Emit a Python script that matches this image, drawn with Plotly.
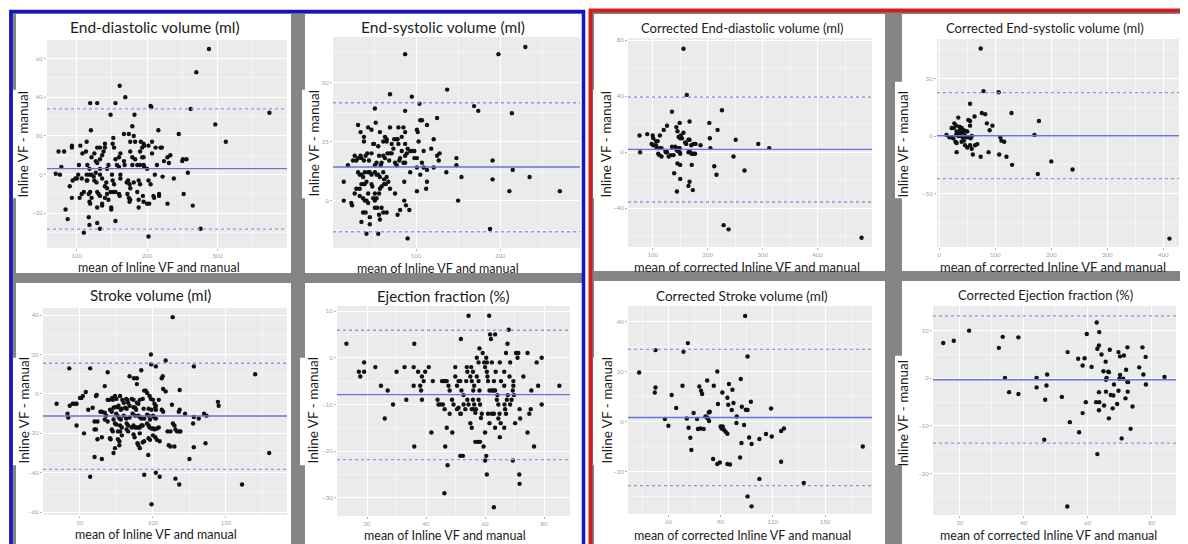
import plotly.graph_objects as go

# reference canvas size and the page offset of the figure (browser body margin)
W, H = 1188, 544
OFF = 8
FW, FH = W - OFF, H - OFF

# ---------------- data (mean of methods vs difference) ----------------
edv_mean = [288,270,161,169,374,119,129,155,148,182, 205,206,262,297,312,245,216,179,120,114,
            152,167,174,181,183,191,176,207,202,195, 196,151,153,74,82,93,93,105,113,129,
            133,125,121,108,140,140,136,138,160,162, 176,179,190,193,195,212,221,219,233,229,
            207,78,70,76,103,115,129,127,133,118, 127,133,143,145,155,157,160,167,168,179,
            183,186,190,193,195,196,200,214,224,231, 251,250,256,258,114,118,121,98,102,94,
            90,100,107,114,115,124,125,128,133,136, 142,140,143,150,151,153,162,162,171,173,
            175,176,181,188,190,202,205,211,222,238, 148,155,152,129,131,133,119,117,121,110,
            107,104,93,143,140,145,160,161,172,174, 176,175,186,194,209,210,217,217,188,195,
            200,203,229,252,265,118,119,129,136,136, 149,149,188,84,87,117,118,129,155,133,
            110,202,276]
edv_diff = [65,53,46,40,32,37,37,37,31,31, 35.5,35,34,26,17,21,23,25,23,17,
            19,21,21,20,17,17,17,17,15,16, 15,16,14,12,12,15,14,15,12,14,
            14,11,9,11,16,14,10,12,9,11, 12,9,12,14,9,14,14,14,10,9,
            11,4,0.5,0,5,5,6,7,8,3, 1,3,3,5,8,5,4,7,5,5,
            8,5,5,9,5,4,3,5,7,6, 8,7,8,1,0,0,0,-2,0,-3,
            -6,-2,-2,-3,-3,-1,-3,-4,0,-2, -4,-6,-7,0,-3,-5,0,-2,-4,-3,
            -5,-7,-4,-3,-5,-3,-5,0,-1,-2, -9,-9,-9,-9,-10,-11,-9,-10,-12,-9,
            -10,-12,-12,-10,-12,-13,-10,-11,-10,-12, -13,-14,-9,-11,-11,-12,-10,-11,-13,-14,
            -15,-15,-15,-10,-16,-14,-15,-17,-15,-16, -18,-17,-17,-18,-23,-22,-26,-25,-24,-28,
            -30,-32,-28]

esv_mean = [87,198,230,137,95,69,51,87,104,169, 174,214,125,105,107,113,31,43,47,52,
            69,79,85,87,101,102,34,57,63,65, 74,78,83,121,38,38,49,50,55,61,
            65,71,73,77,79,83,87,90,93,95, 98,101,103,109,118,87,89,81,80,66,
            69,71,61,63,56,47,42,40,34,27, 31,29,25,35,38,44,53,51,59,58,
            75,77,68,85,87,98,107,105,109,113, 113,125,128,121,127,136,148,148,154,150,
            19,14,14,23,24,27,29,33,35,37, 41,39,47,48,33,37,43,35,37,31,
            33,39,43,45,47,51,53,55,57,61, 62,65,67,62,64,59,57,56,69,75,
            53,51,49,39,41,43,51,54,37,40, 45,35,45,41,55,57,56,61,65,59,
            51,78,81,86,88,92,90,101,112,86, 93,101,188,191,191,211,215,235,271]
esv_diff = [62,62,65,47,44,45,39,38,41,40, 38,37,35,34,34,32,32,31,30,33,
            31,31,31,29,30,29,29,29,27,26, 26,26,27,26,27,25,24,24,23,25,
            25,24,22,26,24,21,24,22,21,21, 21,18,25,21,22,19,20,18,17,20,
            20,20,19,18,19,20,20,19,19,19, 18,17,17,18,17,17,16,15,16,15,
            16,15,17,16,16,18,16,11,14,13, 8,19,20,14,17,12,18,15,10,0,
            15,8,0,-1,-2,3,5,5,7,7, 8,7,7,6,2,1,3,11,10,12,
            11,12,12,12,11,12,11,11,10,12, 9,10,8,7,7,6,5,3,5,3,
            1,0,1,0,0,-1,-3,-3,-5,-5, -7,-9,-10,-14,-14,-8,-6,-5,-5,-3,
            3,-6,-4,0,-2,-4,-16,4,5,8, 12,14,-12,9,17,4,13,10,4]

cedv_mean = [156,162,135,226,76,90,100,101,106,109, 98,101,106,107,113,116,110,112,116,77,
             120,126,113,143,145,149,167,156,147,150, 153,151,159,161,165,167,170,174,178,187,
             135,141,143,145,147,149,123,126,124,129, 133,138,149,150,165,168,171,174,177,145,
             150,171,139,150,167,165,173,144,203,218, 204,205,212,216,251,247,267,292,312,229,
             238,480]
cedv_diff = [74,41,29,30,12,13,12,10,8,8, 6,5,5,3,3,3,-1,-2,-3,0,
             16,19,12,18,15,21,22,14,11,10, 10,12,7,6,9,9,5,6,6,5,
             4,4,2,1,3,3,1,0,0,-3, -2,-2,0,-1,0,0,-1,-1,-1,-8,
             -9,-9,-15,-19,-21,-24,-27,-28,21,16, 10,3,-10,-16,9,-3,-13,6,3,-52,
             -55,-61]

cesv_mean = [74,79,106,55,76,82,129,178,63,52, 55,34,27,30,85,95,90,55,22,26,
             36,40,37,44,48,50,40,43,31,34, 13,18,22,25,30,34,38,42,46,49,
             54,56,58,29,31,40,44,46,50,55, 58,64,68,31,60,74,88,109,111,116,
             107,120,130,170,176,200,238,411]
cesv_diff = [76,39,38,28,20,19,20,13,17,14, 13,16,11,9,11,9,5,9,7,7,
             8,7,5,5,4,4,3,3,4,2, 1,-1,-1,-2,1,0,0,-1,0,-1,
             -1,-2,0,-5,-6,-5,-4,-8,-10,-8, -11,-8,-7,-14,-16,-18,-14,-1,-4,-5,
             -16,-18,-25,1,-33,-22,-29,-89]

sv_mean = [113.5,98.6,108.7,98.8,102,128,170,42.7,57,69, 92,84,87,89,106.7,106,89,67,54,52,
           50,51,46.6,47.7,45,34,43,41.5,42,47.7, 52.8,55.7,58.7,61,61.5,62,60,60,61,62,
           65,60,65,57,64,65,67,68,69,70, 72,72.5,74,75,77.5,79,80,81.7,82.5,83,
           84,85.5,86.7,89,90,91,93,94,95,96, 97.7,98.6,100,101,102,104,101.6,102,97,99,
           93.6,86.7,87.8,88.5,82,81,78,78.7,75.7,76.4, 73,74,70.6,71.8,74.8,75.7,77,78,80,81.7,
           84,86,87.8,90,91,92,94,96,97,98, 100,101,102,67,69,73,74,75,77.5,78.7,
           82,83,85.5,86.7,87.8,89,90,91,92,93, 96,97,97.7,99,100,101,102.7,104,71.8,72.5,
           76,77.5,78.7,82,83,86.7,87.4,91,71,70.6, 76,77,77,74,73,89.4,90,93,94,91,
           97,98,100,101.6,102.7,104.6,96.8,94,102,104.6, 99,106,107,113,117.7,118.3,122,107,108.7,118.3,
           113.7,114.7,115.4,116.5,118.8,118,110,112,110.8,112, 114.7,115.4,118,125,127.5,128,128,131.4,135,136.7,
           136,144.5,145,161,179.6]
sv_diff = [39,20,17,15,14,14,10,13,13,11, 12,9,8,8,9,8,5,4,1,-1,
           -2,-2,-5,-5,-5,-5,-6,-10,-12,-16, -20,-8,-7,-1,-0.5,-14,-14,-18,-18,-23,
           -22,-32,-33,-42,-9,-9,-9.5,-11,-3,-3, -2,-3,-1,-2.5,-1,-3,-4.5,-2.5,-3,-4.5,
           -6,-2.5,-3,-4.5,-5,-3,-2.5,1.7,1.7,0.5, -1,-2.5,-3,-5,-6,-3,-6.7,-8,-7.5,-8,
           -7.5,-6.7,-7,-8,-7.5,-7,-8,-7.5,-6.7,-6, -7,-6.7,-8,-9,-10,-11,-12.5,-13,-11,-12.5,
           -12,-10,-11,-11,-11.7,-12.5,-12.5,-10.5,-11,-13, -11,-12,-12.5,-13,-14,-13,-15,-15.5,-16,-17,
           -15,-16,-17,-16,-17,-17,-17,-17,-16,-16, -15,-16,-17,-17.5,-17.5,-18,-17.5,-17,-18,-19,
           -19,-19,-21,-18,-19,-20.5,-22,-20,-23,-22.5, -23,-24,-26,-27.5,-30,-25,-26,-24.5,-24,-27.5,
           -22.5,-23.3,-21,-22,-23.3,-24,-31,-41,-40,-42, -56,-8,-9,-5.5,-9,-8,-10,2.5,1.3,2,
           -15,-16,-18,-19,-19,-19,-19,-19,-26,-26.7, -26.7,-43,-46,-33,-15,-11.7,-27,-12.5,-10,-11,
           -25,-4,-6,-46,-30]

ef_mean = [13,17.2,17.7,19,19,22.8,24.7,27,26,28.8, 30,32.7,33.3,36,35.8,35.8,36,37.3,38,38.3,
           38.6,39.2,38.6,39.7,40.9,41.8,42.3,43.9,44.2,44.8, 45.4,46,46.5,47,45.7,46.3,47.6,48,46.5,46.2,
           47,47.3,48,48.8,49.3,49.9,48.9,49.9,50.5,51, 51.6,50.5,51,51.8,51.6,52.5,52,52.7,52.7,53.3,
           51.8,51.6,53.6,54,54.4,53.8,54,54.4,55,55.5, 55.3,55.9,56,56.3,55.5,55.9,55.9,56.3,55,55.5,
           56.7,56.9,56.7,57.6,58.3,57.2,57.8,58.1,57.2,57.8, 57.8,58.3,58.6,58.9,59.2,59.5,58.1,59.7,60,60,
           60.4,60.6,60.4,60.6,60.6,60.8,61,61.5,61,61.5, 60,61.4,61.7,62,62.3,62.3,63,62.3,62.9,63.4,
           63.4,63,63.6,63.4,63,64,64.2,64.5,64.5,64.9, 65,65.4,65.3,65,66.5,66.5,66.6,66.8,67.1,66.5,
           67.1,67.6,67.4,67.7,68,68.5,68.3,68.5,69,69.4, 69.6,69.4,69.6,69.8,70.2,70.5,71.3,71,71.7,71.9,
           71.6,71.7,73,74.4,74.4,75,75.5,75.7,76.6,77.5, 78,79.2,79.2,85.2]
ef_diff = [3,-3,-4,-1,-3,-2,-6,-7,-13,-10, -3,-2,-9,3,-2,-6,-19,-3,-6,-7,
           -4,-5,-9,-3,-2,-16,-5,-9,-10,-10, -5,-5,-5,-5,-10,-11,-6,-7,-19,-29,
           -15,-23,-12,-9,-10,-4,-16,-2,-6,-5, -5,-11,-10.7,4,-21,-21,-7,-8,-10,-11,
           -12,-12,-5,-9,-10,-2,-3,9,-4,-5, -2,-3,-7,-6,-11,-11,-9,-10,-14,-15,
           -11.8,-11,-18,-18,-18,0,-1,2,-4,-5, -9,-10,-12.9,-12,1,-19,-7,-1,-2,-22,
           -21,-25,0,-1,-3,-4,-5,-7,-12,-14, -16,9,5,4,-1,-12,-12,-7,-7,-7,
           5,-5,-3,-15,-32,-9,-8,-10,-13,-12, -1,-5,-14,-17,-3,-6,-10,-11,-12,-15,
           1,3,-9,-8,6,-1,-4,-10,-9,-7, -6,-22,-5,-8,-14,1,1,0,-11,-13,
           -25,-27,-4,1,-16,-12,-11,-7,-19,-1, -6,0,-10,-6]

csv_mean = [104.1,71.2,52.6,68.7,105.5,43.2,88.1,101.6,82.3,52.6, 52.2,68.1,77.8,86.1,94.8,96.8,78.8,79.4,61.9,91,
            93.9,64.5,88.5,94.4,97.4,96.4,102.2,104.5,105.5,107.4, 119,58,60,70.6,74.5,76.5,81.3,82.3,82.6,83.2,
            83.8,83.4,77,78.4,80.3,71.6,72.6,73.2,90,90.6, 91.2,91.9,92.9,93.9,99.3,99.1,103.5,106.4,102,107.8,
            112.3,116.1,119.4,124.8,126.4,85.7,88.1,89.6,93.9,95.4, 101.2,124.8,112.3,137.8,105.5,107.8,171.7]
csv_diff = [42.4,31.5,28.7,28,26.1,19.7,20.1,17.1,16.5,13.7, 11.7,14.4,14.1,14.4,15.1,12.8,12.4,11.1,10.7,11.7,
            9.6,5.5,7.1,6.8,7.5,4.7,6,4.8,4.7,8, 5.3,1.1,-1.6,1.3,3.5,1.1,2.1,1.7,1.3,3.7,
            4,0.3,-2.9,-2.7,-2.9,-2.4,-6.4,-11.3,-1.9,-2.7, -1.9,-3.2,-4,-4.8,2.1,-0.5,-1.3,-6.3,-8.5,-8.9,
            -6.9,-4.9,-5.9,-3.7,-2.7,-14.9,-16.9,-16.3,-16.9,-17.1, -14.3,-16,-22.9,-24.5,-29.9,-33.9,-9.9]

cef_mean = [14.8,18.1,22.9,32.2,33.4,34.1,38.3,35.4,38.3,44, 44,47.3,47.1,46.7,46.4,51.9,53.7,54.4,57,58.4,
            59,59.7,57.3,58.4,59.4,61.2,62.8,63,63.5,63.6, 64.3,62.6,63.6,63.5,63.5,63,64.9,65.1,65.6,65.7,
            65.9,65.7,66.4,66.6,66.6,66.9,67.2,68,67.8,68.2, 69.9,69.6,69.6,69.2,70.1,70.1,70.6,71.1,71.3,71.8,
            72,72.4,72.4,72.6,72.5,73.4,74,76.1,77.1,77.4, 78.1,78.2,84,53.6]
cef_diff = [7.4,7.9,10,6.4,8.7,0.1,8.6,-2.9,-3.3,0.1, -1.9,0.8,-1.5,-4.5,-12.9,-3.9,5.5,-9.2,4.1,2.7,
            4.2,9.3,-11.3,-7.3,-5,2.4,11.7,6.2,6.9,9.7, 5,-5,-5,-2.9,-6.7,-15.9,1.5,-5.7,3.5,-0.3,
            0.1,-2.8,1.4,1.3,-8.4,6,-3.5,-3.6,-6.3,-1.3, -0.1,5.5,-2.6,-5.4,4.6,0.7,-12.6,-0.1,4.8,-4.2,
            1.8,6.5,-0.7,-0.8,-2.8,-10.6,-5.9,2.3,6.5,0.8, 4.5,-1.3,0.3,-26.9]

# bias, upper and lower limits of agreement
edv_stats = [3.1, 34.0, -28.2]
esv_stats = [14.2, 41.4, -13.2]
cedv_stats = [2.1, 39.5, -35.5]
cesv_stats = [0.3, 37.7, -37.0]
sv_stats = [-11.2, 15.6, -38.3]
ef_stats = [-7.9, 5.9, -21.8]
csv_stats = [1.7, 29.0, -25.6]
cef_stats = [-0.3, 13.1, -13.6]

titles = ["End-diastolic volume (ml)", "End-systolic volume (ml)",
          "Corrected End-diastolic volume (ml)", "Corrected End-systolic volume (ml)",
          "Stroke volume (ml)", "Ejection fraction (%)",
          "Corrected Stroke volume (ml)", "Corrected Ejection fraction (%)"]
xlab_plain = "mean of Inline VF and manual"
xlab_corr = "mean of corrected Inline VF and manual"
ylab = "Inline VF - manual"


def fx(px):
    return (px - OFF) / FW


def fy(py):
    return 1 - (py - OFF) / FH


# layout of each panel (pixel geometry, in page pixels)
panels = [
    dict(x=edv_mean, y=edv_diff, s=edv_stats, t=titles[0], ts=15.5, xl=xlab_plain, xs=12.5,
         plot=(47, 38, 287, 247), xr=(57.6, 399), yr=(-38, 69.7), xd=100, yd=20,
         tpos=(155, 25), xlpos=(159, 266), ylpos=(23, 143), ylbox=(13, 88, 32, 197), panel=(16, 12, 291, 272)),
    dict(x=esv_mean, y=esv_diff, s=esv_stats, t=titles[1], ts=15.5, xl=xlab_plain, xs=12.5,
         plot=(333, 35, 580, 247), xr=(1.2, 295), yr=(-20.1, 69.3), xd=100, yd=25,
         tpos=(443, 25), xlpos=(438, 267), ylpos=(313, 142), ylbox=(302, 88, 323, 197), panel=(305, 12, 582, 272)),
    dict(x=cedv_mean, y=cedv_diff, s=cedv_stats, t=titles[2], ts=13, xl=xlab_corr, xs=13,
         plot=(628, 36, 872, 246), xr=(55, 499), yr=(-67.7, 81.7), xd=100, yd=40,
         tpos=(742, 26), xlpos=(747, 266), ylpos=(606, 143), ylbox=(593, 88, 621, 197), panel=(594, 12, 885, 270)),
    dict(x=cesv_mean, y=cesv_diff, s=cesv_stats, t=titles[3], ts=13, xl=xlab_corr, xs=13,
         plot=(937, 37, 1179, 246), xr=(-4, 428), yr=(-96.4, 84.3), xd=100, yd=50,
         tpos=(1045, 26), xlpos=(1053, 266), ylpos=(903, 143), ylbox=(895, 80, 910, 197), panel=(902, 12, 1188, 270)),
    dict(x=sv_mean, y=sv_diff, s=sv_stats, t=titles[4], ts=15, xl=xlab_plain, xs=12.5,
         plot=(43, 307, 287, 515), xr=(24.7, 191.8), yr=(-61.5, 43.7), xd=50, yd=20,
         tpos=(150, 294), xlpos=(156, 534), ylpos=(23, 410), ylbox=(13, 357, 32, 465), panel=(16, 282, 291, 544)),
    dict(x=ef_mean, y=ef_diff, s=ef_stats, t=titles[5], ts=15, xl=xlab_plain, xs=12.5,
         plot=(337, 305, 570, 516), xr=(9.8, 88.8), yr=(-33.9, 11.1), xd=20, yd=10,
         tpos=(443, 295), xlpos=(445, 535), ylpos=(312, 410), ylbox=(300, 357, 323, 465), panel=(305, 282, 582, 544)),
    dict(x=csv_mean, y=csv_diff, s=csv_stats, t=titles[6], ts=13.5, xl=xlab_corr, xs=12.5,
         plot=(628, 305, 872, 514), xr=(36.8, 177), yr=(-37, 46.4), xd=30, yd=20,
         tpos=(742, 295), xlpos=(742, 535), ylpos=(606, 410), ylbox=(593, 357, 621, 465), panel=(594, 280, 885, 544)),
    dict(x=cef_mean, y=cef_diff, s=cef_stats, t=titles[7], ts=13, xl=xlab_corr, xs=12.5,
         plot=(933, 305, 1176, 515), xr=(11.6, 87.6), yr=(-28.7, 15.2), xd=20, yd=10,
         tpos=(1045, 294), xlpos=(1048, 535), ylpos=(903, 413), ylbox=(895, 355, 912, 465), panel=(902, 280, 1188, 544)),
]

FONT = "Lato"
fig = go.Figure()
shapes = []
annotations = []
layout = {}

# group backgrounds (grey) inside the coloured frames
shapes.append(dict(type="rect", xref="paper", yref="paper", x0=fx(9), x1=fx(585), y0=fy(8), y1=fy(548),
                   fillcolor="#858585", line=dict(width=0), layer="below"))
shapes.append(dict(type="rect", xref="paper", yref="paper", x0=fx(589), x1=fx(1192), y0=fy(7), y1=fy(548),
                   fillcolor="#858585", line=dict(width=0), layer="below"))

for i, p in enumerate(panels, start=1):
    xa = "xaxis" if i == 1 else f"xaxis{i}"
    ya = "yaxis" if i == 1 else f"yaxis{i}"
    xr_ = "x" if i == 1 else f"x{i}"
    yr_ = "y" if i == 1 else f"y{i}"
    l, t, r, b = p["plot"]
    pl, pt, pr, pb = p["panel"]
    # white panel
    shapes.append(dict(type="rect", xref="paper", yref="paper", x0=fx(pl), x1=fx(pr), y0=fy(pt), y1=fy(pb),
                       fillcolor="white", line=dict(width=0), layer="below"))
    # y-label box
    bl, bt, br, bb = p["ylbox"]
    shapes.append(dict(type="rect", xref="paper", yref="paper", x0=fx(bl), x1=fx(br), y0=fy(bt), y1=fy(bb),
                       fillcolor="white", line=dict(width=0), layer="below"))
    # grey plotting area
    shapes.append(dict(type="rect", xref=f"{xr_} domain", yref=f"{yr_} domain", x0=0, x1=1, y0=0, y1=1,
                       fillcolor="#EBEBEB", line=dict(width=0), layer="below"))
    # bias and limits of agreement
    bias, up, lo = p["s"]
    shapes.append(dict(type="line", xref=f"{xr_} domain", yref=yr_, x0=0, x1=1, y0=bias, y1=bias,
                       line=dict(color="#6673d9", width=1.4), layer="above"))
    for v in (up, lo):
        shapes.append(dict(type="line", xref=f"{xr_} domain", yref=yr_, x0=0, x1=1, y0=v, y1=v,
                           line=dict(color="#9494ea", width=1.4, dash="dot"), layer="above"))

    fig.add_trace(go.Scatter(x=p["x"], y=p["y"], mode="markers", xaxis=xr_, yaxis=yr_,
                             marker=dict(color="#111111", size=4.4), showlegend=False, hoverinfo="x+y"))

    common = dict(showgrid=True, gridcolor="white", gridwidth=1, zeroline=False, showline=False,
                  ticks="outside", ticklen=2, tickcolor="#b5b5b5", tickwidth=1,
                  tickfont=dict(size=6, color="#a0a0a0", family=FONT))
    layout[xa] = dict(domain=[max(0, fx(l)), min(1, fx(r))], anchor=yr_, range=list(p["xr"]), tick0=0, dtick=p["xd"],
                      minor=dict(dtick=p["xd"] / 2, showgrid=True, gridcolor="#F5F5F5", gridwidth=0.6, ticks=""),
                      **common)
    layout[ya] = dict(domain=[max(0, fy(b)), min(1, fy(t))], anchor=xr_, range=list(p["yr"]), tick0=0, dtick=p["yd"],
                      minor=dict(dtick=p["yd"] / 2, showgrid=True, gridcolor="#F5F5F5", gridwidth=0.6, ticks=""),
                      **common)

    tx, ty = p["tpos"]
    annotations.append(dict(text=p["t"], x=fx(tx), y=fy(ty), xref="paper", yref="paper", showarrow=False,
                            xanchor="center", yanchor="middle", font=dict(family=FONT, size=p["ts"], color="#1c1c1c")))
    lx, ly = p["xlpos"]
    annotations.append(dict(text=p["xl"], x=fx(lx), y=fy(ly), xref="paper", yref="paper", showarrow=False,
                            xanchor="center", yanchor="middle", font=dict(family=FONT, size=p["xs"], color="#1c1c1c")))
    yx, yy = p["ylpos"]
    annotations.append(dict(text=ylab, x=fx(yx), y=fy(yy), xref="paper", yref="paper", showarrow=False,
                            textangle=-90, xanchor="center", yanchor="middle",
                            font=dict(family=FONT, size=13.5, color="#1c1c1c")))

# coloured frames
shapes.append(dict(type="rect", xref="paper", yref="paper", x0=fx(11), x1=fx(583.5), y0=fy(9.5), y1=fy(560),
                   fillcolor="rgba(0,0,0,0)", line=dict(color="#1414c8", width=3.5), layer="below"))
shapes.append(dict(type="rect", xref="paper", yref="paper", x0=fx(590.5), x1=fx(1200), y0=fy(8.5), y1=fy(560),
                   fillcolor="rgba(0,0,0,0)", line=dict(color="#d41e1e", width=4), layer="below"))

fig.update_layout(width=FW, height=FH, margin=dict(l=0, r=0, t=0, b=0),
                  paper_bgcolor="white", plot_bgcolor="rgba(0,0,0,0)",
                  shapes=shapes, annotations=annotations, showlegend=False, **layout)

fig.write_html("out.html")
